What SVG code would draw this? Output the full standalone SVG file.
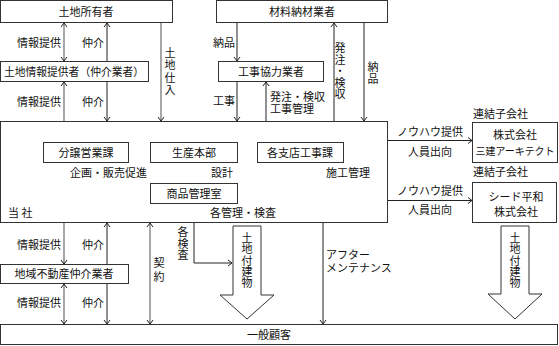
<svg xmlns="http://www.w3.org/2000/svg" width="559" height="346" viewBox="0 0 559 346">
<style>
.box{fill:#fff;stroke:#333;stroke-width:1}
.t{font-family:"Noto Sans CJK JP","Noto Sans CJK SC",sans-serif;font-size:11px;fill:#111}
.c{text-anchor:middle}
.v{writing-mode:vertical-rl;text-orientation:upright}
.ln{fill:none;stroke:#222;stroke-width:1}
.gr{fill:none;stroke:#777;stroke-width:1.3}
.big{fill:#fff;stroke:#333;stroke-width:1}
</style>
<defs>
<marker id="a" viewBox="-5 -5 10 10" refX="0" refY="0" markerWidth="10" markerHeight="10" markerUnits="userSpaceOnUse" orient="auto-start-reverse">
<path d="M-4,-3 L0,0 L-4,3" fill="none" stroke="#222" stroke-width="1"/>
</marker>
</defs>
<g id="connectors">
<line class="gr" x1="64" y1="23" x2="64" y2="61" marker-start="url(#a)" marker-end="url(#a)"/>
<line class="ln" x1="107" y1="61" x2="107" y2="23" marker-end="url(#a)"/>
<line class="gr" x1="161" y1="23" x2="161" y2="121" marker-end="url(#a)"/>
<line class="ln" x1="237" y1="23" x2="237" y2="61" marker-end="url(#a)"/>
<line class="ln" x1="237" y1="82" x2="237" y2="121" marker-end="url(#a)"/>
<line class="ln" x1="266" y1="142" x2="266" y2="82" marker-end="url(#a)"/>
<line class="ln" x1="334" y1="142" x2="334" y2="23" marker-end="url(#a)"/>
<line class="ln" x1="364" y1="23" x2="364" y2="121" marker-end="url(#a)"/>
<line class="gr" x1="64" y1="82" x2="64" y2="142" marker-start="url(#a)" marker-end="url(#a)"/>
<line class="ln" x1="107" y1="82" x2="107" y2="121" marker-end="url(#a)"/>
<line class="ln" x1="388" y1="140.5" x2="472" y2="140.5" marker-end="url(#a)"/>
<line class="ln" x1="388" y1="200.5" x2="472" y2="200.5" marker-end="url(#a)"/>
<line class="gr" x1="64" y1="163" x2="64" y2="264" marker-start="url(#a)" marker-end="url(#a)"/>
<line class="ln" x1="107" y1="264" x2="107" y2="223" marker-end="url(#a)"/>
<line class="gr" x1="64" y1="284" x2="64" y2="324" marker-start="url(#a)" marker-end="url(#a)"/>
<line class="ln" x1="107" y1="284" x2="107" y2="324" marker-end="url(#a)"/>
<line class="gr" x1="150" y1="223" x2="150" y2="324" marker-start="url(#a)" marker-end="url(#a)"/>
<polyline class="ln" points="194,204 194,263 232,263" marker-end="url(#a)"/>
<line class="ln" x1="323" y1="163" x2="323" y2="324" marker-end="url(#a)"/>
</g>
<g id="tochishoyusha"><rect class="box" x="0.5" y="0.5" width="172" height="22"/><text class="t c" x="86" y="15.5">土地所有者</text></g>
<g id="zairyo"><rect class="box" x="216.5" y="0.5" width="171" height="22"/><text class="t c" x="302" y="15.5">材料納材業者</text></g>
<g id="tochijoho"><rect class="box" x="0.5" y="61.5" width="148" height="20"/><text class="t c" x="74" y="75.5" textLength="140" lengthAdjust="spacingAndGlyphs">土地情報提供者（仲介業者）</text></g>
<g id="kyoryoku"><rect class="box" x="218.5" y="61.5" width="105" height="20"/><text class="t c" x="271" y="75.5">工事協力業者</text></g>
<g id="tosha"><rect class="box" x="0.5" y="121.5" width="387" height="101" fill="none"/>
<text class="t" x="8" y="217">当 社</text></g>
<g id="bunjo"><rect class="box" x="43.5" y="142.5" width="85" height="20"/><text class="t c" x="86" y="156.5">分譲営業課</text></g>
<g id="seisan"><rect class="box" x="150.5" y="142.5" width="87" height="20"/><text class="t c" x="194" y="156.5">生産本部</text></g>
<g id="shiten"><rect class="box" x="257.5" y="142.5" width="86" height="20"/><text class="t c" x="300" y="156.5">各支店工事課</text></g>
<g id="shohin"><rect class="box" x="150.5" y="183.5" width="87" height="20"/><text class="t c" x="194" y="197.5">商品管理室</text></g>
<g id="sanken"><rect class="box" x="472.5" y="122.5" width="85" height="40"/><text class="t c" x="515" y="139">株式会社</text><text class="t c" x="515" y="155" style="font-size:10.5px" textLength="79" lengthAdjust="spacingAndGlyphs">三建アーキテクト</text></g>
<g id="seed"><rect class="box" x="472.5" y="182.5" width="84" height="40"/><text class="t c" x="516" y="201">シード平和</text><text class="t c" x="516" y="216">株式会社</text></g>
<g id="chiiki"><rect class="box" x="0.5" y="264.5" width="128" height="19"/><text class="t c" x="64" y="278">地域不動産仲介業者</text></g>
<g id="ippan"><rect class="box" x="0.5" y="324.5" width="557" height="20"/><text class="t" x="247" y="339">一般顧客</text></g>
<g id="arrow1"><polygon class="big" points="233,226 261,226 261,295 274,295 247,319 220,295 233,295"/>
<text class="t v" x="247" y="232.5" style="letter-spacing:0.3px">土地付建物</text></g>
<g id="arrow2"><polygon class="big" points="501,226 529,226 529,294 542,294 515,319 488,294 501,294"/>
<text class="t v" x="515" y="232.5" style="letter-spacing:0.3px">土地付建物</text></g>
<g id="labels">
<text class="t" x="17" y="47">情報提供</text>
<text class="t" x="82" y="47">仲介</text>
<text class="t v" x="170" y="47" style="letter-spacing:1.6px">土地仕入</text>
<text class="t" x="17" y="106">情報提供</text>
<text class="t" x="82" y="106">仲介</text>
<text class="t" x="213" y="47">納品</text>
<text class="t" x="213" y="105">工事</text>
<text class="t" x="270" y="101">発注・検収<tspan x="270" dy="12">工事管理</tspan></text>
<text class="t v" x="340" y="42.5" style="letter-spacing:0.5px">発注・検収</text>
<text class="t v" x="373" y="61.5" style="letter-spacing:1px">納品</text>
<text class="t" x="70" y="177">企画・販売促進</text>
<text class="t" x="211" y="177">設計</text>
<text class="t" x="326" y="177">施工管理</text>
<text class="t" x="210" y="217">各管理・検査</text>
<text class="t" x="473" y="118">連結子会社</text>
<text class="t" x="397" y="136">ノウハウ提供</text>
<text class="t" x="408" y="156">人員出向</text>
<text class="t" x="473" y="176">連結子会社</text>
<text class="t" x="397" y="195">ノウハウ提供</text>
<text class="t" x="408" y="214">人員出向</text>
<text class="t" x="17" y="249">情報提供</text>
<text class="t" x="82" y="249">仲介</text>
<text class="t" x="17" y="307">情報提供</text>
<text class="t" x="82" y="307">仲介</text>
<text class="t v" x="159" y="257.5" style="letter-spacing:3px">契約</text>
<text class="t v" x="183" y="226.5" style="letter-spacing:0.5px">各検査</text>
<text class="t" x="326" y="259">アフター<tspan x="326" dy="13">メンテナンス</tspan></text>
</g>
</svg>
